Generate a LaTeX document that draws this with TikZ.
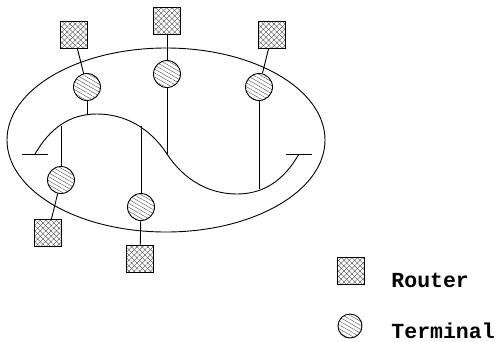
\documentclass[tikz,border=0pt]{standalone}
\usepackage{fontspec}
\newfontfamily\legendfont{Liberation Mono}
\usetikzlibrary{positioning,patterns.meta}
\tikzset{
	router/.style={draw, minimum size=27pt, inner sep=0pt, pattern color=black!75,
		pattern={Lines[angle=45, distance=3.8pt, line width=0.35pt]},
		preaction={pattern color=black!75, pattern={Lines[angle=-45, distance=3.8pt, line width=0.35pt]}}},
	terminal/.style={draw, circle, minimum size=27pt, inner sep=0pt, pattern color=black!75,
		pattern={Lines[angle=-30, distance=3.4pt, line width=0.35pt]}},
	legend/.style={anchor=base west, inner sep=0pt, font=\legendfont\bfseries\fontsize{21.5}{25}\selectfont}
}

\begin{document}
\begin{tikzpicture}[x=1pt, y=-1pt, line width=0.9pt]
	\useasboundingbox (0,0) rectangle (501,341);
	\begin{scope}
		% ring and the S-shaped bus
		\draw (166,140) ellipse [x radius=159, y radius=92];
		\draw (35,154) .. controls (50,128) and (70,114) .. (97,114)
			.. controls (125,114) and (150,128) .. (167,154)
			.. controls (184,180) and (209,194) .. (237,194)
			.. controls (264,194) and (284,180) .. (299,154);
		\draw (22,154) -- (48,154);
		\draw (286,154) -- (312,154);

		\coordinate (c1) at (87,115);
		\coordinate (c2) at (167,154);
		\coordinate (c3) at (259,189);
		\coordinate (c4) at (61,126);
		\coordinate (c5) at (141,126);

		\node[terminal] (t1) at (87,87) {};
		\node[terminal] (t2) at (167,74) {};
		\node[terminal] (t3) at (259,87) {};
		\node[terminal] (t4) at (61,180) {};
		\node[terminal] (t5) at (141,207) {};

		\node[router] (r1) at (74,35) {};
		\node[router] (r2) at (167,21) {};
		\node[router] (r3) at (272,35) {};
		\node[router] (r4) at (48,233) {};
		\node[router] (r5) at (140,259) {};

		\draw (r1) -- (t1);
		\draw (r2) -- (t2);
		\draw (r3) -- (t3);
		\draw (r4) -- (t4);
		\draw (r5) -- (t5);

		\draw (t1) -- (c1);
		\draw (t2) -- (c2);
		\draw (t3) -- (c3);
		\draw (t4) -- (c4);
		\draw (t5) -- (c5);
	\end{scope}

	% legend
	\node[router, minimum size=27pt] (lr) at (351,271) {};
	\node[terminal, minimum size=24pt] (lt) at (350,326) {};
	\node[legend] (lrtext) at (391,287) {Router};
	\node[legend] (lttext) at (391,338) {Terminal};
\end{tikzpicture}
\end{document}
